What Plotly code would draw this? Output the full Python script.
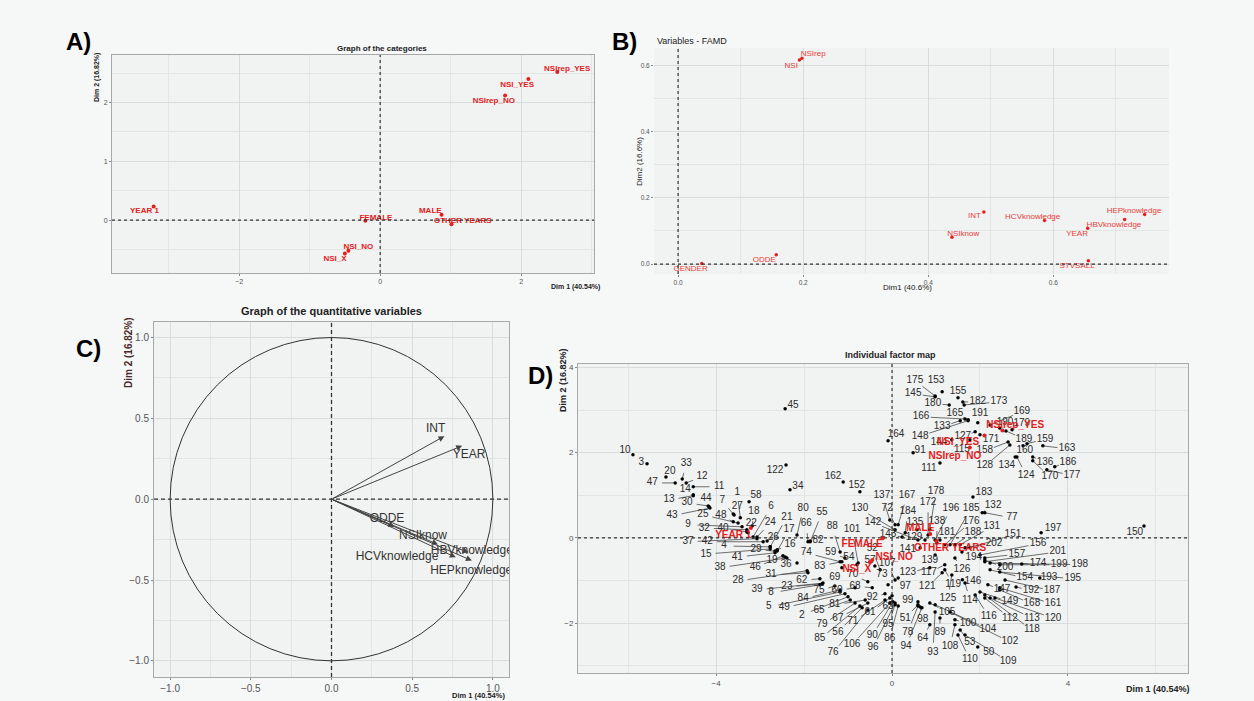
import math
import plotly.graph_objects as go

# ---------------- Panel A / D : categories ----------------
cat_names = ["NSIrep_YES", "NSI_YES", "NSIrep_NO", "YEAR 1", "FEMALE", "MALE",
             "OTHER YEARS", "NSI_NO", "NSI_X"]
cat_dim1 = [2.51, 2.10, 1.77, -3.21, -0.21, 0.87, 1.01, -0.45, -0.50]
cat_dim2 = [2.52, 2.40, 2.12, 0.23, -0.01, 0.09, -0.07, -0.52, -0.57]
catA_lab_x = [2.65, 1.94, 1.61, -3.34, -0.06, 0.71, 1.17, -0.31, -0.64]
catA_lab_y = [2.57, 2.30, 2.02, 0.15, 0.04, 0.16, -0.01, -0.45, -0.66]
catD_lab_x = [2.80, 1.50, 1.43, -3.61, -0.68, 0.64, 1.32, 0.05, -0.80]
catD_lab_y = [2.63, 2.25, 1.92, 0.05, -0.16, 0.23, -0.26, -0.47, -0.75]

# ---------------- Panel B : variables FAMD ----------------
var_names = ["NSIrep", "NSI", "INT", "HCVknowledge", "NSIknow", "ODDE", "GENDER",
             "HEPknowledge", "HBVknowledge", "YEAR", "STVSALL"]
var_dim1 = [0.198, 0.194, 0.489, 0.586, 0.438, 0.157, 0.038, 0.746, 0.714, 0.655, 0.656]
var_dim2 = [0.622, 0.617, 0.157, 0.132, 0.081, 0.028, 0.002, 0.150, 0.135, 0.108, 0.010]
var_lab_x = [0.216, 0.181, 0.474, 0.567, 0.456, 0.138, 0.020, 0.729, 0.697, 0.638, 0.638]
var_lab_y = [0.634, 0.600, 0.144, 0.142, 0.091, 0.012, -0.015, 0.160, 0.118, 0.091, -0.007]

# ---------------- Panel C : quantitative variables ----------------
quant_names = ["INT", "YEAR", "ODDE", "NSIknow", "HBVknowledge", "HCVknowledge", "HEPknowledge"]
quant_dim1 = [0.70, 0.81, 0.39, 0.66, 0.85, 0.77, 0.87]
quant_dim2 = [0.39, 0.33, -0.17, -0.28, -0.33, -0.36, -0.38]
quant_lab_x = [0.645, 0.852, 0.344, 0.567, 0.870, 0.406, 0.866]
quant_lab_y = [0.435, 0.274, -0.124, -0.225, -0.320, -0.355, -0.447]

# ---------------- Panel D : individuals ----------------
ind_id = [10, 3, 20, 47, 33, 12, 11, 14, 13, 30,
          44, 43, 7, 1, 27, 58, 25, 48, 18, 6,
          24, 22, 9, 32, 40, 37, 42, 26, 21, 17,
          4, 29, 15, 41, 16, 19, 46, 38, 36, 28,
          31, 62, 39, 8, 23, 75, 84, 5, 49, 2,
          65, 79, 85, 56, 76, 69, 60, 81, 67, 74,
          59, 83, 82, 80, 66, 55, 88, 101, 54, 57,
          52, 107, 70, 73, 68, 92, 61, 71, 90, 95,
          106, 96, 86, 63, 97, 99, 51, 98, 78, 94,
          64, 89, 93, 108, 105, 100, 104, 53, 110, 50,
          102, 109, 116, 114, 146, 149, 112, 118, 113, 120,
          168, 161, 147, 192, 187, 154, 193, 195, 174, 199,
          198, 200, 157, 201, 156, 151, 197, 150, 194, 202,
          131, 188, 181, 176, 185, 196, 138, 172, 178, 183,
          132, 77, 167, 184, 137, 72, 130, 142, 143, 129,
          141, 139, 126, 123, 117, 119, 121, 125, 135, 45,
          122, 34, 162, 152, 164, 91, 111, 175, 153, 145,
          180, 166, 133, 148, 165, 155, 182, 173, 191, 169,
          127, 171, 115, 158, 128, 134, 124, 189, 160, 159,
          163, 136, 186, 170, 177, 190, 179, 144]
ind_dim1 = [-5.89, -5.57, -5.14, -4.93, -4.77, -4.68, -4.52, -4.52, -4.52, -4.18,
            -4.16, -4.14, -3.61, -3.45, -3.59, -3.25, -3.50, -3.61, -3.18, -3.16,
            -3.07, -3.27, -3.41, -3.30, -3.30, -3.07, -2.93, -2.84, -2.77, -2.61,
            -2.77, -2.66, -2.77, -2.66, -2.61, -2.43, -2.48, -2.39, -2.16, -1.93,
            -1.91, -1.64, -1.57, -1.64, -1.59, -1.30, -1.18, -1.18, -1.07, -1.00,
            -0.95, -0.84, -0.73, -0.68, -0.55, -1.14, -0.84, -0.61, -0.55, -1.18,
            -1.07, -1.14, -1.86, -2.16, -1.91, -1.86, -1.18, -0.77, -0.80, -0.39,
            -0.27, 0.07, -0.55, -0.09, -0.45, -0.16, -0.05, -0.16, 0.02, 0.07,
            -0.05, 0.07, 0.14, 0.00, 0.14, 0.59, 0.59, 0.64, 0.59, 0.68,
            0.86, 1.09, 0.98, 1.43, 0.86, 1.43, 0.98, 1.55, 1.50, 1.95,
            1.32, 1.66, 1.89, 1.66, 1.60, 2.00, 2.11, 2.11, 2.23, 2.34,
            2.45, 2.45, 2.18, 2.82, 2.57, 2.23, 3.36, 2.45, 2.95, 2.45,
            2.23, 2.11, 2.11, 2.11, 2.00, 1.77, 3.39, 5.73, 1.59, 1.66,
            1.55, 1.43, 1.09, 1.20, 1.32, 0.98, 1.02, 0.82, 0.86, 1.84,
            2.05, 2.11, 0.14, 0.30, -0.05, 0.07, 0.07, 0.59, 0.23, 0.75,
            0.64, 0.98, 1.43, 0.86, 1.20, 1.20, 1.14, 1.36, 0.57, -2.43,
            -2.41, -2.32, -1.11, -0.73, -0.09, 0.48, 1.09, 0.98, 1.14, 0.98,
            1.30, 1.66, 1.55, 1.73, 1.73, 1.50, 1.61, 1.64, 1.95, 2.23,
            1.89, 2.00, 1.77, 2.64, 2.68, 2.80, 2.84, 2.59, 2.98, 3.07,
            3.43, 3.20, 3.70, 3.20, 3.52, 2.45, 2.73, 1.36]
ind_dim2 = [1.95, 1.74, 1.43, 1.29, 1.38, 1.29, 1.20, 1.01, 0.99, 0.75,
            0.73, 0.70, 0.56, 0.47, 0.54, 0.85, 0.35, 0.38, 0.28, 0.02,
            0.02, 0.12, 0.26, 0.19, 0.14, -0.02, -0.09, -0.07, -0.21, -0.31,
            -0.21, -0.31, -0.26, -0.35, -0.28, -0.45, -0.42, -0.47, -0.59, -0.77,
            -0.82, -0.96, -1.06, -1.10, -1.08, -1.13, -1.22, -1.27, -1.31, -1.38,
            -1.46, -1.53, -1.60, -1.64, -1.69, -0.70, -1.17, -1.46, -1.53, -0.56,
            -0.47, -0.56, -0.07, 0.07, -0.09, -0.09, -0.33, -0.59, -0.63, -0.66,
            -0.75, -0.99, -1.03, -1.10, -1.17, -1.31, -1.41, -1.46, -1.50, -1.57,
            -1.53, -1.53, -1.60, -1.36, -0.94, -1.50, -1.57, -1.62, -1.60, -1.64,
            -2.04, -1.88, -1.74, -2.04, -1.53, -1.92, -1.57, -2.16, -2.28, -2.56,
            -1.74, -2.28, -1.34, -1.06, -0.98, -1.27, -1.41, -1.34, -1.41, -1.41,
            -1.22, -1.17, -1.10, -1.15, -0.99, -0.75, -0.94, -0.80, -0.61, -0.63,
            -0.59, -0.52, -0.47, -0.56, -0.40, -0.23, 0.12, 0.28, -0.33, -0.23,
            -0.16, -0.16, -0.05, -0.16, -0.16, -0.05, -0.12, 0.07, 0.19, 0.96,
            0.59, 0.59, 0.31, 0.12, 0.42, 0.31, 0.19, -0.05, 0.02, -0.05,
            -0.23, -0.40, -0.47, -0.70, -0.63, -0.75, -0.82, -0.87, 0.19, 3.03,
            1.71, 1.13, 1.31, 1.08, 2.28, 2.00, 1.76, 3.33, 3.43, 3.31,
            3.12, 2.79, 2.75, 2.75, 2.77, 3.29, 3.19, 3.12, 2.70, 2.65,
            2.49, 2.42, 2.30, 2.25, 2.18, 1.90, 1.90, 2.51, 2.16, 2.21,
            2.16, 1.90, 1.67, 1.81, 1.60, 2.58, 2.54, 2.30]
ind_lab_x = [-6.07, -5.70, -5.05, -5.45, -4.68, -4.32, -3.93, -4.70, -5.07, -4.66,
             -4.23, -5.00, -3.86, -3.52, -3.52, -3.09, -4.30, -3.89, -3.14, -2.75,
             -2.77, -3.20, -4.64, -4.27, -3.84, -4.64, -4.20, -2.70, -2.39, -2.34,
             -3.82, -3.09, -4.23, -3.52, -2.32, -2.73, -3.11, -3.91, -2.41, -3.50,
             -2.75, -2.05, -3.07, -2.75, -2.39, -1.66, -2.02, -2.80, -2.45, -2.05,
             -1.66, -1.59, -1.64, -1.23, -1.34, -1.30, -1.25, -1.30, -1.23, -1.95,
             -1.39, -1.64, -1.68, -2.02, -1.95, -1.59, -1.36, -0.91, -0.98, -0.50,
             -0.45, -0.11, -0.89, -0.23, -0.84, -0.45, -0.50, -0.89, -0.45, -0.09,
             -0.91, -0.43, -0.05, -0.09, 0.30, 0.36, 0.30, 0.70, 0.36, 0.32,
             0.70, 1.09, 0.93, 1.32, 1.25, 1.73, 2.18, 1.77, 1.77, 2.20,
             2.68, 2.64, 2.20, 1.77, 1.84, 2.68, 2.68, 3.18, 3.18, 3.66,
             3.18, 3.66, 2.50, 3.16, 3.64, 3.02, 3.57, 4.11, 3.32, 3.80,
             4.27, 2.57, 2.84, 3.77, 3.32, 2.75, 3.66, 5.52, 1.86, 2.32,
             2.27, 1.84, 1.25, 1.80, 1.80, 1.34, 1.02, 0.82, 1.00, 2.09,
             2.30, 2.73, 0.34, 0.36, -0.23, -0.11, -0.73, -0.43, -0.09, 0.50,
             0.36, 0.86, 1.59, 0.36, 0.84, 1.39, 0.80, 1.27, 0.52, -2.25,
             -2.66, -2.14, -1.34, -0.80, 0.09, 0.64, 0.84, 0.52, 1.00, 0.48,
             0.93, 0.66, 1.14, 0.64, 1.43, 1.50, 1.95, 2.43, 2.00, 2.95,
             1.61, 2.25, 1.59, 2.11, 2.11, 2.61, 3.05, 3.00, 3.02, 3.48,
             3.98, 3.48, 4.00, 3.59, 4.09, 2.57, 2.95, 1.07]
ind_lab_y = [2.04, 1.76, 1.55, 1.29, 1.74, 1.43, 1.20, 1.13, 0.89, 0.82,
             0.92, 0.52, 0.87, 1.06, 0.73, 0.99, 0.54, 0.52, 0.61, 0.73,
             0.35, 0.33, 0.31, 0.23, 0.23, -0.09, -0.09, 0.02, 0.49, 0.19,
             -0.19, -0.28, -0.38, -0.45, -0.16, -0.52, -0.70, -0.70, -0.63, -1.01,
             -0.87, -0.99, -1.22, -1.29, -1.15, -1.24, -1.43, -1.62, -1.64, -1.81,
             -1.71, -2.04, -2.37, -2.21, -2.70, -0.94, -1.24, -1.57, -1.88, -0.35,
             -0.35, -0.66, -0.07, 0.70, 0.33, 0.59, 0.26, 0.19, -0.47, -0.54,
             -0.26, -0.59, -0.87, -0.87, -1.13, -1.41, -1.76, -1.97, -2.30, -2.04,
             -2.51, -2.58, -2.35, -1.62, -1.15, -1.46, -1.88, -1.92, -2.21, -2.54,
             -2.35, -2.23, -2.68, -2.54, -1.74, -2.02, -2.14, -2.46, -2.86, -2.68,
             -2.44, -2.89, -1.85, -1.46, -1.03, -1.50, -1.88, -2.16, -1.88, -1.88,
             -1.55, -1.55, -1.22, -1.24, -1.24, -0.94, -0.94, -0.96, -0.61, -0.63,
             -0.63, -0.70, -0.38, -0.33, -0.14, 0.07, 0.21, 0.12, -0.45, -0.12,
             0.26, 0.12, 0.12, 0.38, 0.70, 0.70, 0.38, 0.82, 1.10, 1.06,
             0.77, 0.47, 0.99, 0.61, 0.99, 0.68, 0.68, 0.35, 0.07, 0.02,
             -0.28, -0.52, -0.73, -0.82, -0.82, -1.10, -1.15, -1.43, 0.35, 3.10,
             1.57, 1.20, 1.43, 1.22, 2.42, 2.04, 1.62, 3.69, 3.69, 3.38,
             3.15, 2.84, 2.61, 2.39, 2.93, 3.43, 3.19, 3.19, 2.91, 2.96,
             2.37, 2.32, 2.07, 2.04, 1.69, 1.69, 1.46, 2.32, 2.04, 2.32,
             2.09, 1.78, 1.78, 1.43, 1.46, 2.70, 2.68, 2.25]

# ---------------- styling ----------------
FONT = "Liberation Sans, Arial, sans-serif"
PAPER = "#f6f7f7"
PANEL = "#f1f2f2"
GRID = "#d9dcdc"
MINOR = "#e3e5e5"
RED = "#e3211c"

fig = go.Figure()

# ---- Panel A ----
fig.add_trace(go.Scatter(x=cat_dim1, y=cat_dim2, mode="markers",
                         marker=dict(color=RED, size=4), xaxis="x", yaxis="y",
                         hoverinfo="skip"))
fig.add_trace(go.Scatter(x=catA_lab_x, y=catA_lab_y, mode="text", text=cat_names,
                         textfont=dict(color=RED, size=8, family=FONT, weight="bold"),
                         xaxis="x", yaxis="y", hoverinfo="skip"))

# ---- Panel B ----
fig.add_trace(go.Scatter(x=var_dim1, y=var_dim2, mode="markers",
                         marker=dict(color=RED, size=3.5), xaxis="x2", yaxis="y2",
                         hoverinfo="skip"))
fig.add_trace(go.Scatter(x=var_lab_x, y=var_lab_y, mode="text", text=var_names,
                         textfont=dict(color="#e8403a", size=8, family=FONT),
                         xaxis="x2", yaxis="y2", hoverinfo="skip"))

# ---- Panel C ----
fig.add_trace(go.Scatter(x=quant_lab_x, y=quant_lab_y, mode="text", text=quant_names,
                         textfont=dict(color="#333333", size=12, family=FONT),
                         xaxis="x3", yaxis="y3", hoverinfo="skip"))

# ---- Panel D ----
seg_x, seg_y = [], []
for px, py, lx, ly in zip(ind_dim1, ind_dim2, ind_lab_x, ind_lab_y):
    d = math.hypot(lx - px, ly - py)
    if d > 0.3:
        f = (d - 0.22) / d
        seg_x += [px, px + (lx - px) * f, None]
        seg_y += [py, py + (ly - py) * f, None]
fig.add_trace(go.Scatter(x=seg_x, y=seg_y, mode="lines",
                         line=dict(color="#4a4a4a", width=0.8),
                         xaxis="x4", yaxis="y4", hoverinfo="skip"))
fig.add_trace(go.Scatter(x=ind_dim1, y=ind_dim2, mode="markers",
                         marker=dict(color="black", size=3.5),
                         xaxis="x4", yaxis="y4", hoverinfo="skip"))
fig.add_trace(go.Scatter(x=ind_lab_x, y=ind_lab_y, mode="text",
                         text=[str(i) for i in ind_id],
                         textfont=dict(color="#2b2b2b", size=10, family=FONT),
                         xaxis="x4", yaxis="y4", hoverinfo="skip"))
fig.add_trace(go.Scatter(x=cat_dim1, y=cat_dim2, mode="markers",
                         marker=dict(color=RED, size=4), xaxis="x4", yaxis="y4",
                         hoverinfo="skip"))
fig.add_trace(go.Scatter(x=catD_lab_x, y=catD_lab_y, mode="text", text=cat_names,
                         textfont=dict(color=RED, size=10, family=FONT, weight="bold"),
                         xaxis="x4", yaxis="y4", hoverinfo="skip"))


def axis(domain, rng, dtick, minor, fmt=None, size=7, frame=True, anchor=None, tick0=0):
    d = dict(domain=domain, range=rng, dtick=dtick, tick0=tick0,
             showgrid=True, gridcolor=GRID, gridwidth=1, zeroline=False,
             minor=dict(dtick=minor, tick0=tick0, showgrid=True, gridcolor=MINOR, gridwidth=1),
             tickfont=dict(size=size, color="#555555", family=FONT),
             ticks="outside", ticklen=2, tickcolor="#888888",
             showline=frame, mirror=frame, linecolor="#a8a8a8", linewidth=1,
             anchor=anchor, fixedrange=True)
    if fmt:
        d["tickformat"] = fmt
    return d


W, H = 1254, 701
fig.update_layout(
    width=W, height=H, margin=dict(l=0, r=0, t=0, b=0),
    paper_bgcolor=PAPER, plot_bgcolor=PANEL, showlegend=False,
    font=dict(family=FONT),
    xaxis=axis([112 / W, 594 / W], [-3.80, 3.03], 2, 1, size=7, anchor="y"),
    yaxis=axis([1 - 273 / H, 1 - 55 / H], [-0.90, 2.81], 1, 0.5, size=7, anchor="x"),
    xaxis2=axis([654 / W, 1169 / W], [-0.0385, 0.785], 0.2, 0.1, fmt=".1f", size=6.5,
                frame=False, anchor="y2"),
    yaxis2=axis([1 - 274 / H, 1 - 48 / H], [-0.03, 0.653], 0.2, 0.1, fmt=".1f", size=6.5,
                frame=False, anchor="x2"),
    xaxis3=axis([154 / W, 509 / W], [-1.10, 1.10], 0.5, 0.25, fmt=".1f", size=10, anchor="y3"),
    yaxis3=axis([1 - 677 / H, 1 - 322 / H], [-1.10, 1.096], 0.5, 0.25, fmt=".1f", size=10,
                anchor="x3"),
    xaxis4=axis([578 / W, 1188 / W], [-7.14, 6.73], 4, 2, size=8, anchor="y4"),
    yaxis4=axis([1 - 673 / H, 1 - 364 / H], [-3.17, 4.08], 2, 1, size=8, anchor="x4"),
)

shapes = []
# origin lines
for xr, yr, dash, w in [("x", "y", "dot", 1.2), ("x2", "y2", "dot", 1.2),
                        ("x3", "y3", "4px,3px", 1.3), ("x4", "y4", "dot", 1.2)]:
    shapes.append(dict(type="line", xref=xr, yref=yr + " domain", x0=0, x1=0, y0=0, y1=1,
                       line=dict(color="#333333", width=w, dash=dash)))
    shapes.append(dict(type="line", xref=xr + " domain", yref=yr, x0=0, x1=1, y0=0, y1=0,
                       line=dict(color="#333333", width=w, dash=dash)))
# correlation circle
shapes.append(dict(type="circle", xref="x3", yref="y3", x0=-1, y0=-1, x1=1, y1=1,
                   line=dict(color="#333333", width=1)))
fig.update_layout(shapes=shapes)

ann = []
# arrows in panel C
for n, x, y in zip(quant_names, quant_dim1, quant_dim2):
    ann.append(dict(x=x, y=y, ax=0, ay=0, xref="x3", yref="y3", axref="x3", ayref="y3",
                    text="", showarrow=True, arrowhead=2, arrowsize=1.2, arrowwidth=1,
                    arrowcolor="#444444"))


def txt(t, px, py, size, bold=False, color="#222222", xanchor="center", angle=0):
    return dict(text=("<b>%s</b>" % t) if bold else t, x=px / W, y=1 - py / H,
                xref="paper", yref="paper", showarrow=False, xanchor=xanchor,
                yanchor="middle", textangle=angle,
                font=dict(size=size, color=color, family=FONT))


ann += [
    txt("A)", 78, 42, 24, True, "black"),
    txt("B)", 624, 42, 24, True, "black"),
    txt("C)", 88, 348, 24, True, "black"),
    txt("D)", 540, 375, 24, True, "black"),
    txt("Graph of the categories", 382, 48, 8, True),
    txt("Variables - FAMD", 655, 41, 9, False, xanchor="left"),
    txt("Graph of the quantitative variables", 332, 311, 11, True),
    txt("Individual factor map", 890, 355, 9, True),
    txt("Dim 2 (16.82%)", 97, 78, 7, True, angle=-90),
    txt("Dim 1 (40.54%)", 575, 287, 7, True),
    txt("Dim2 (16.6%)", 639, 162, 8, False, angle=-90),
    txt("Dim1 (40.6%)", 907, 287, 8, False),
    txt("Dim 2 (16.82%)", 128, 353, 10, True, "#4a2a2a", angle=-90),
    txt("Dim 1 (40.54%)", 478, 695, 7.5, True),
    txt("Dim 2 (16.82%)", 563, 380, 9, True, angle=-90),
    txt("Dim 1 (40.54%)", 1158, 689, 9, True),
]
fig.update_layout(annotations=ann)

fig.write_html("out.html", config={"displayModeBar": False},
               post_script="document.body.style.margin='0px';document.body.style.overflow='hidden';")
